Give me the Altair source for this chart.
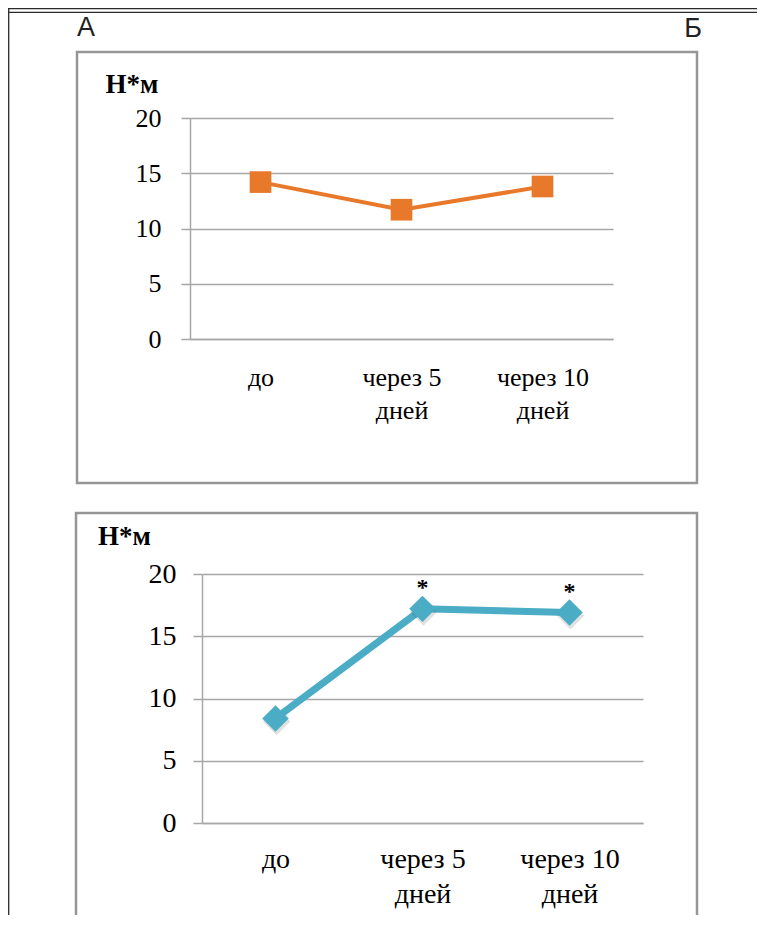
import altair as alt
import pandas as pd

# ---- data ----
categories = ["до", "через 5 дней", "через 10 дней"]
values_a = [14.2, 11.7, 13.8]
values_b = [8.4, 17.2, 16.9]
marks_b = ["", "*", "*"]
y_ticks = [0, 5, 10, 15, 20]
unit_label = ["Н*м"]
letter_a = ["А"]
letter_b = ["Б"]

# ---- styling ----
W, H = 749, 907
GRID = "#A6A6A6"
FRAME = "#969696"
DOC = "#2b2b2b"
SERIF = "Liberation Serif"
SANS = "Liberation Sans"
ORANGE = "#E8792B"
TEAL = "#4BACC6"

df_a = pd.DataFrame({"cat": categories, "val": values_a})
df_b = pd.DataFrame({"cat": categories, "val": values_b, "sig": marks_b})
one = pd.DataFrame({"k": [0]})

label_expr = "split(replace(datum.label, ' дней', '|дней'), '|')"


def x_enc(rng, axis_y, pad, size, lh):
    return alt.X(
        "cat:N", sort=categories, title=None,
        scale=alt.Scale(type="point", range=rng, padding=0.5),
        axis=alt.Axis(orient="bottom", offset=axis_y - H, ticks=False, tickSize=0,
                      domain=True, domainColor=GRID, domainWidth=1.5, grid=False,
                      labelAngle=0, labelExpr=label_expr, labelFont=SERIF,
                      labelFontSize=size, labelLineHeight=lh, labelColor="black",
                      labelPadding=pad, labelOverlap=False),
    )


def y_enc(rng, axis_x, pad, size):
    return alt.Y(
        "val:Q", title=None,
        scale=alt.Scale(domain=[0, 20], range=rng, nice=False, zero=True),
        axis=alt.Axis(orient="left", offset=-axis_x, values=y_ticks, ticks=True, tickSize=9,
                      tickColor=GRID, tickWidth=1.5, domain=True, domainColor=GRID,
                      domainWidth=1.5, grid=True, gridColor=GRID, gridWidth=1.5,
                      labelFont=SERIF, labelFontSize=size, labelColor="black",
                      labelPadding=pad),
    )


# panel A
xa = x_enc([182, 605], 331, 25, 26, 33)
ya = y_enc([331, 110], 182, 20, 26)
line_a = alt.Chart(df_a).mark_line(color=ORANGE, strokeWidth=4).encode(x=xa, y=ya)
pts_a = alt.Chart(df_a).mark_point(shape="square", filled=True, size=470, color=ORANGE,
                                   opacity=1).encode(x=xa, y=ya)
panel_a = alt.layer(line_a, pts_a)

# panel B
xb = x_enc([194, 635], 815, 22, 28, 35)
yb = y_enc([815, 566], 194, 17, 28)
line_b = alt.Chart(df_b).mark_line(color=TEAL, strokeWidth=7).encode(x=xb, y=yb)
shadow_b = alt.Chart(df_b).mark_point(shape="diamond", filled=True, size=760, color="#555",
                                      opacity=0.18, xOffset=1, yOffset=3).encode(x=xb, y=yb)
pts_b = alt.Chart(df_b).mark_point(shape="diamond", filled=True, size=700, color=TEAL,
                                   opacity=1).encode(x=xb, y=yb)
stars_b = alt.Chart(df_b).mark_text(font=SERIF, fontWeight="bold", fontSize=24, dy=-14,
                                    baseline="alphabetic", color="black").encode(
    x=xb, y=yb, text="sig:N")
panel_b = alt.layer(line_b, shadow_b, pts_b, stars_b)

# ---- decorations (document frame, panel frames, labels) ----
base = alt.Chart(one)
doc_top1 = base.mark_rule(color=DOC, strokeWidth=1.3).encode(
    x=alt.value(0), x2=alt.value(W), y=alt.value(0.7))
doc_top2 = base.mark_rule(color=DOC, strokeWidth=1.3).encode(
    x=alt.value(0), x2=alt.value(W), y=alt.value(4.3))
doc_left = base.mark_rule(color=DOC, strokeWidth=1.3).encode(
    x=alt.value(0.7), y=alt.value(0.7), y2=alt.value(H))

frame_a = base.mark_rect(fillOpacity=0, stroke=FRAME, strokeWidth=2.5).encode(
    x=alt.value(69), x2=alt.value(689), y=alt.value(44), y2=alt.value(475))
frame_b = base.mark_rect(fillOpacity=0, stroke=FRAME, strokeWidth=2.5).encode(
    x=alt.value(68), x2=alt.value(689), y=alt.value(505), y2=alt.value(H + 30))

txt_a = alt.Chart(pd.DataFrame({"t": letter_a})).mark_text(
    font=SANS, fontSize=27, align="center", baseline="alphabetic", color="#222").encode(
    x=alt.value(78), y=alt.value(28), text="t:N")
txt_b = alt.Chart(pd.DataFrame({"t": letter_b})).mark_text(
    font=SANS, fontSize=27, align="center", baseline="alphabetic", color="#222").encode(
    x=alt.value(685), y=alt.value(29), text="t:N")

unit_df = pd.DataFrame({"t": unit_label})
unit_a = alt.Chart(unit_df).mark_text(
    font=SERIF, fontSize=27, fontWeight="bold", align="center", baseline="alphabetic",
    color="black").encode(x=alt.value(124), y=alt.value(85), text="t:N")
unit_b = alt.Chart(unit_df).mark_text(
    font=SERIF, fontSize=27, fontWeight="bold", align="center", baseline="alphabetic",
    color="black").encode(x=alt.value(116.5), y=alt.value(537), text="t:N")

chart = alt.layer(
    doc_top1, doc_top2, doc_left, frame_a, frame_b, txt_a, txt_b, unit_a, unit_b,
    panel_a, panel_b,
).resolve_scale(x="independent", y="independent").properties(
    width=W, height=H, autosize=alt.AutoSizeParams(type="none"), padding=0,
    background="white",
).configure_view(stroke=None)

chart.save("out.html", embed_options={"renderer": "svg", "actions": False})
